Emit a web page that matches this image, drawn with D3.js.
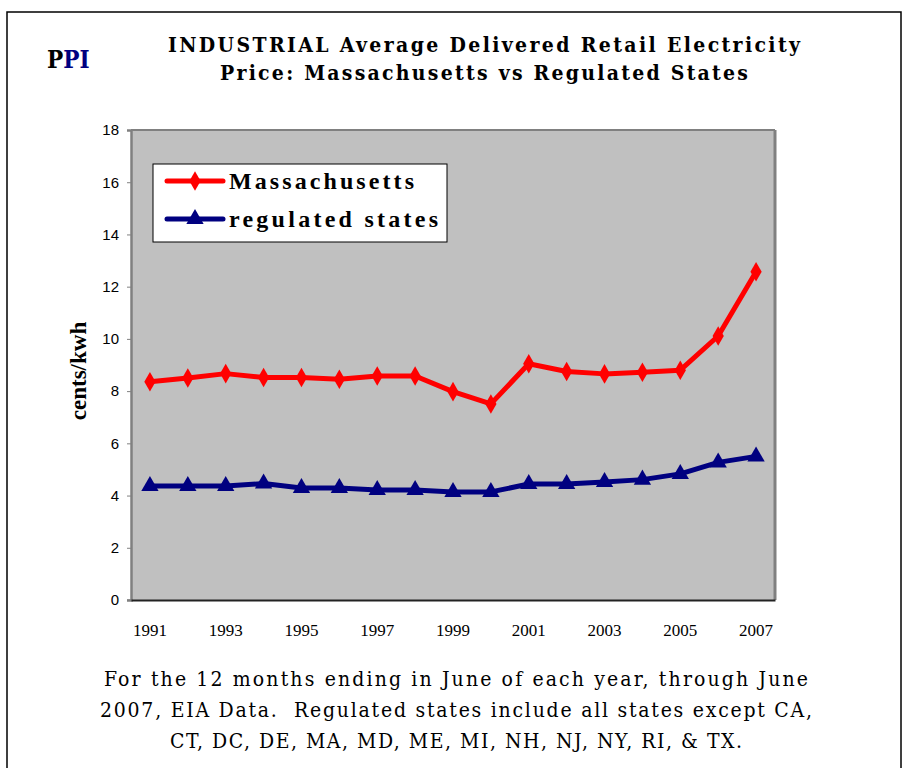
<!DOCTYPE html>
<html>
<head>
<meta charset="utf-8">
<script src="https://cdn.jsdelivr.net/npm/d3@7"></script>
<style>
  body { margin: 0; background: #fff; }
  svg { display: block; }
</style>
</head>
<body>
<svg id="chart" width="904" height="768"></svg>
<script>
// data
const years = [1991, 1992, 1993, 1994, 1995, 1996, 1997, 1998, 1999, 2000, 2001, 2002, 2003, 2004, 2005, 2006, 2007];
const massachusetts = [8.36, 8.5, 8.67, 8.52, 8.52, 8.45, 8.58, 8.58, 7.98, 7.51, 9.05, 8.75, 8.66, 8.72, 8.8, 10.11, 12.57];
const regulated = [4.37, 4.37, 4.37, 4.46, 4.29, 4.29, 4.21, 4.21, 4.14, 4.14, 4.44, 4.44, 4.52, 4.61, 4.83, 5.27, 5.5];
const yTicks = [0, 2, 4, 6, 8, 10, 12, 14, 16, 18];
const xLabelYears = [1991, 1993, 1995, 1997, 1999, 2001, 2003, 2005, 2007];
const titleLines = ["INDUSTRIAL Average Delivered Retail Electricity", "Price: Massachusetts vs Regulated States"];
const noteLines = [
  "For the 12 months ending in June of each year, through June",
  "2007, EIA Data.  Regulated states include all states except CA,",
  "CT, DC, DE, MA, MD, ME, MI, NH, NJ, NY, RI, & TX."
];

const serif = "'Liberation Serif', 'Times New Roman', serif";
const narrow = "'DejaVu Serif Condensed', 'DejaVu Serif', serif";
const sans = "'Liberation Sans', Arial, sans-serif";

const svg = d3.select("#chart");

// outer frame
svg.append("rect")
  .attr("x", 7).attr("y", 12)
  .attr("width", 894).attr("height", 770)
  .attr("fill", "none").attr("stroke", "#000").attr("stroke-width", 1.5);

// PPI logo
const ppi = svg.append("text")
  .attr("x", 47).attr("y", 68)
  .attr("font-family", narrow).attr("font-stretch", "condensed")
  .attr("font-weight", "bold").attr("font-size", 24);
ppi.append("tspan").attr("fill", "#000").text("P");
ppi.append("tspan").attr("fill", "#000080").text("PI");

// title
const titleWidths = [632, 528];
svg.selectAll(".title")
  .data(titleLines)
  .join("text")
  .attr("class", "title")
  .attr("x", 484).attr("y", (d, i) => 52 + i * 28)
  .attr("text-anchor", "middle")
  .attr("font-family", narrow).attr("font-stretch", "condensed")
  .attr("font-weight", "bold").attr("font-size", 21)
  .attr("textLength", (d, i) => titleWidths[i])
  .attr("lengthAdjust", "spacing")
  .text(d => d);

// plot area
const plot = { left: 131, top: 130, right: 775, bottom: 600 };

const x = d3.scaleBand()
  .domain(years)
  .range([plot.left, plot.right]);

const y = d3.scaleLinear()
  .domain([0, 18])
  .range([plot.bottom, plot.top]);

svg.append("rect")
  .attr("x", plot.left).attr("y", plot.top)
  .attr("width", plot.right - plot.left).attr("height", plot.bottom - plot.top)
  .attr("fill", "#c0c0c0");

// top and right edges of the plot area
svg.append("line")
  .attr("x1", plot.left).attr("x2", plot.right)
  .attr("y1", plot.top).attr("y2", plot.top)
  .attr("stroke", "#808080").attr("stroke-width", 2);
svg.append("line")
  .attr("x1", plot.right).attr("x2", plot.right)
  .attr("y1", plot.top).attr("y2", plot.bottom)
  .attr("stroke", "#808080").attr("stroke-width", 3);

// y axis
const yAxisGroup = svg.append("g")
  .attr("transform", `translate(${plot.left},0)`)
  .call(d3.axisLeft(y).tickValues(yTicks).tickSize(4).tickPadding(8));
yAxisGroup.select(".domain").attr("stroke", "#808080").attr("stroke-width", 2.5);
yAxisGroup.selectAll("line").attr("stroke", "#808080");
yAxisGroup.selectAll("text")
  .attr("font-family", sans).attr("font-size", 15).attr("fill", "#000");

// x axis
const xAxisGroup = svg.append("g")
  .attr("transform", `translate(0,${plot.bottom})`)
  .call(d3.axisBottom(x).tickValues(xLabelYears).tickSize(0).tickPadding(24));
xAxisGroup.select(".domain").attr("stroke", "#222").attr("stroke-width", 2);
xAxisGroup.selectAll("text")
  .attr("font-family", serif).attr("font-size", 17).attr("fill", "#000");
svg.append("line")
  .attr("x1", plot.left - 4).attr("x2", plot.left)
  .attr("y1", plot.bottom).attr("y2", plot.bottom)
  .attr("stroke", "#808080");

// y axis title
svg.append("text")
  .attr("transform", `translate(86,${(plot.top + plot.bottom) / 2 + 6}) rotate(-90)`)
  .attr("text-anchor", "middle")
  .attr("font-family", serif).attr("font-weight", "bold").attr("font-size", 23)
  .text("cents/kwh");

// series
const series = [
  { name: "Massachusetts", values: massachusetts, color: "#ff0000", symbol: d3.symbolDiamond },
  { name: "regulated states", values: regulated, color: "#000080", symbol: d3.symbolTriangle }
];

const cx = yr => x(yr) + x.bandwidth() / 2;
const line = d3.line()
  .x((d, i) => cx(years[i]))
  .y(d => y(d));

series.forEach(s => {
  svg.append("path")
    .datum(s.values)
    .attr("fill", "none")
    .attr("stroke", s.color)
    .attr("stroke-width", 5)
    .attr("stroke-linejoin", "round")
    .attr("d", line);

  svg.selectAll(null)
    .data(s.values)
    .join("path")
    .attr("transform", (d, i) => `translate(${cx(years[i])},${y(d)})`)
    .attr("d", d3.symbol().type(s.symbol).size(s.symbol === d3.symbolDiamond ? 110 : 130))
    .attr("fill", s.color);
});

// legend
const legend = svg.append("g").attr("transform", "translate(153,164)");
legend.append("rect")
  .attr("width", 294).attr("height", 78)
  .attr("fill", "#fff").attr("stroke", "#000").attr("stroke-width", 1);

const legendWidths = [185, 209];
series.forEach((s, i) => {
  const ly = 17 + i * 38;
  legend.append("line")
    .attr("x1", 14).attr("x2", 70)
    .attr("y1", ly).attr("y2", ly)
    .attr("stroke", s.color).attr("stroke-width", 5).attr("stroke-linecap", "round");
  legend.append("path")
    .attr("transform", `translate(42,${ly})`)
    .attr("d", d3.symbol().type(s.symbol).size(s.symbol === d3.symbolDiamond ? 110 : 130))
    .attr("fill", s.color);
  legend.append("text")
    .attr("x", 76).attr("y", ly + 8)
    .attr("font-family", serif).attr("font-weight", "bold").attr("font-size", 24)
    .attr("textLength", legendWidths[i])
    .attr("lengthAdjust", "spacing")
    .text(s.name);
});

// footnote
const noteWidths = [704, 712, 572];
svg.selectAll(".note")
  .data(noteLines)
  .join("text")
  .attr("class", "note")
  .attr("x", 456).attr("y", (d, i) => 686 + i * 31)
  .attr("text-anchor", "middle")
  .attr("font-family", narrow).attr("font-stretch", "condensed")
  .attr("font-size", 21)
  .attr("textLength", (d, i) => noteWidths[i])
  .attr("lengthAdjust", "spacing")
  .attr("xml:space", "preserve")
  .text(d => d);
</script>
</body>
</html>
